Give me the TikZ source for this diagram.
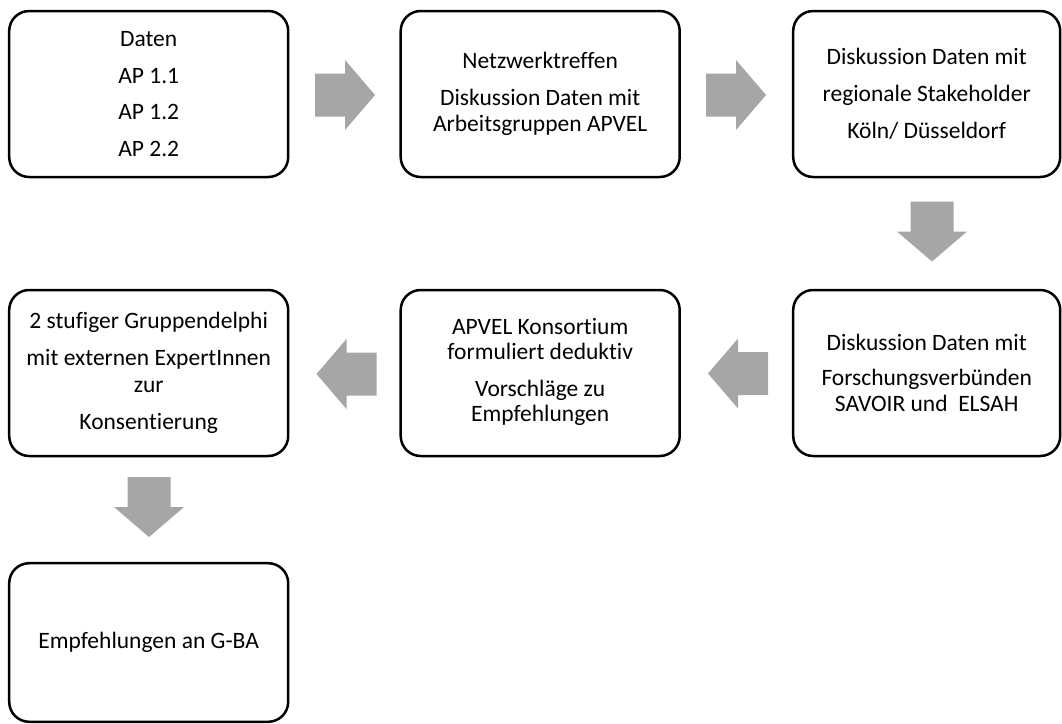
\documentclass[tikz,border=0pt]{standalone}
\usepackage{fontspec}
\setmainfont[Ligatures={NoCommon}]{Carlito}
\usetikzlibrary{calc}
\definecolor{arrowgray}{HTML}{A6A6A6}
\begin{document}
\begin{tikzpicture}[x=1pt,y=-1pt,
  box/.style={draw=black, line width=2.5pt, rounded corners=20pt,
    minimum width=279pt, minimum height=166pt, align=center, inner sep=0pt,
    text=black, font=\fontsize{23.5}{26.5}\selectfont},
  narrowbox/.style={box, minimum width=267pt},
  blockarr/.pic={\fill[arrowgray] (-30,-21.5) -- (0,-21.5) -- (0,-35) -- (30,0)
     -- (0,35) -- (0,21.5) -- (-30,21.5) -- cycle;}
]
\useasboundingbox (0,0) rectangle (1062,723);

\node[box] (b1) at (148.7,94) {Daten\\[10.2pt]AP 1.1\\[10.2pt]AP 1.2\\[10.2pt]AP 2.2};
\node[box] (b2) at (540.2,94) {Netzwerktreffen\\[10.5pt]Diskussion Daten mit\\Arbeitsgruppen APVEL};
\node[narrowbox] (b3) at (926.7,94) {Diskussion Daten mit\\[10.2pt]regionale Stakeholder\\[10.2pt]Köln/ Düsseldorf};

\node[box] (b4) at (148.7,373) {2 stufiger Gruppendelphi\\[10.2pt]mit externen ExpertInnen\\zur\\[10.6pt]Konsentierung};
\node[box, font=\fontsize{23.5}{24.4}\selectfont] (b5) at (540.2,373) {\rule{0pt}{14pt}\\[-24.4pt]APVEL Konsortium\\formuliert deduktiv\\[12.9pt]Vorschläge zu\\Empfehlungen};
\node[narrowbox] (b6) at (926.7,373) {Diskussion Daten mit\\[8.5pt]Forschungsverbünden\\SAVOIR und\ \ ELSAH};

\node[box, minimum height=158.6pt] (b7) at (148.7,642.5) {Empfehlungen an G-BA};

\coordinate (a12) at (345,95);
\coordinate (a23) at (736,95);
\coordinate (a36) at (932,231.5);
\coordinate (a65) at (738,373.5);
\coordinate (a54) at (346.5,374);
\coordinate (a47) at (149,507);

\pic at (a12) {blockarr};
\pic at (a23) {blockarr};
\pic[rotate=-90] at (a36) {blockarr};
\pic[rotate=180] at (a65) {blockarr};
\pic[rotate=180] at (a54) {blockarr};
\pic[rotate=-90] at (a47) {blockarr};
\end{tikzpicture}
\end{document}
